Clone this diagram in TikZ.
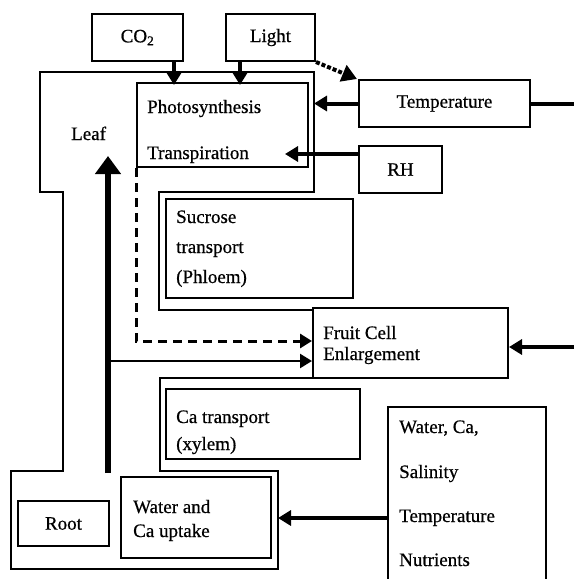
\documentclass[tikz,border=0pt]{standalone}
\usepackage{fontspec}
\setmainfont{Liberation Serif}[FakeBold=0.6]
\usetikzlibrary{arrows.meta}
\tikzset{
  box/.style={draw, line width=2pt, inner sep=0pt, align=center},
  lbl/.style={anchor=base west, inner sep=0pt},
  outline/.style={line width=2pt, line join=miter},
  thickarrow/.style={line width=4pt, -{Triangle[length=13pt,width=15pt]}},
  medarrow/.style={line width=2.5pt, -{Triangle[length=12pt,width=14pt]}},
  bigarrow/.style={line width=5.5pt, -{Triangle[length=18pt,width=25pt]}},
}
\begin{document}
\begin{tikzpicture}[x=1pt, y=-1pt, font=\fontsize{19}{22}\selectfont]
\useasboundingbox (0,0) rectangle (574,579);
% boxes
\node[box, minimum width=91pt, minimum height=47pt] (co2) at (137.5,37.5) {CO\textsubscript{2}};
\node[box, minimum width=89pt, minimum height=47pt] (light) at (270.5,37.5) {Light};
\node[box, minimum width=171pt, minimum height=84pt] (ps) at (222.5,125) {};
\node[box, minimum width=171pt, minimum height=47pt] (temp) at (444.5,103.5) {Temperature};
\node[box, minimum width=83pt, minimum height=47pt] (rh) at (400.5,169.5) {RH};
\node[box, minimum width=187pt, minimum height=99pt] (suc) at (259.5,248.5) {};
\node[box, minimum width=195pt, minimum height=70pt] (fruit) at (410.5,343) {};
\node[box, minimum width=194pt, minimum height=70pt] (ca) at (263,424) {};
\node[box, minimum width=150pt, minimum height=81pt] (wca) at (196,517.5) {};
\node[box, minimum width=91pt, minimum height=45pt] (root) at (63.5,523.5) {Root};
% environment box (runs off the bottom edge)
\draw[outline] (388,585) -- (388,407) -- (546,407) -- (546,585);
\coordinate (env) at (388,518);
% plant outline
\draw[outline] (313,310) -- (159,310) -- (159,192) -- (314,192) -- (314,72) -- (40,72)
  -- (40,192) -- (63,192) -- (63,471) -- (11,471) -- (11,569) -- (278,569) -- (278,471)
  -- (160,471) -- (160,378) -- (313,378);
\coordinate (leafR) at (314,72);
\coordinate (rootR) at (278,471);
% texts
\node[lbl] (t1) at (147,113) {Photosynthesis};
\node[lbl] (t2) at (147,159) {Transpiration};
\node[lbl] (leaf) at (71,140) {Leaf};
\node[lbl] (s1) at (176,223) {Sucrose};
\node[lbl] (s2) at (176,253) {transport};
\node[lbl] (s3) at (176,283) {(Phloem)};
\node[lbl] (f1) at (323,339) {Fruit Cell};
\node[lbl] (f2) at (323,360) {Enlargement};
\node[lbl] (c1) at (176,423) {Ca transport};
\node[lbl] (c2) at (176,450) {(xylem)};
\node[lbl] (w1) at (133,513) {Water and};
\node[lbl] (w2) at (133,537) {Ca uptake};
\node[lbl] (e1) at (399,433) {Water, Ca,};
\node[lbl] (e2) at (399,478) {Salinity};
\node[lbl] (e3) at (399,522) {Temperature};
\node[lbl] (e4) at (399,566) {Nutrients};
% connectors
\draw[thickarrow] ([xshift=-10pt]co2.south east) -- ([xshift=-10pt,yshift=-3pt]co2.south east |- ps.north);
\draw[thickarrow] ([xshift=15pt]light.south west) -- ([xshift=15pt,yshift=-3pt]light.south west |- ps.north);
\draw[line width=4pt, dotted, -{Triangle[length=15pt,width=17pt]}] (light.south east) -- ([xshift=-1pt]temp.north west);
\draw[thickarrow] (temp.west) -- (temp.west -| leafR);
\coordinate (edgeT) at (574,103.5);
\draw[line width=4pt] (temp.east) -- (edgeT);
\coordinate (rhT) at (285,154);
\draw[thickarrow] (rh.west |- rhT) -- (rhT);
\coordinate (edgeF) at (574,347);
\draw[thickarrow] (edgeF) -- (edgeF -| fruit.east);
\draw[line width=3pt, dash pattern=on 9pt off 6pt, -{Triangle[length=12pt,width=14pt]}]
  (ps.south west) |- ([yshift=2pt]fruit.west);
\coordinate (stemB) at (108,473);
\coordinate (stemT) at (108,156);
\draw[bigarrow] (stemB) -- (stemT);
\coordinate (stemM) at (108,361);
\draw[medarrow] ([xshift=-2pt]stemM) -- (stemM -| fruit.west);
\draw[thickarrow] (env) -- (env -| rootR);
\end{tikzpicture}
\end{document}
